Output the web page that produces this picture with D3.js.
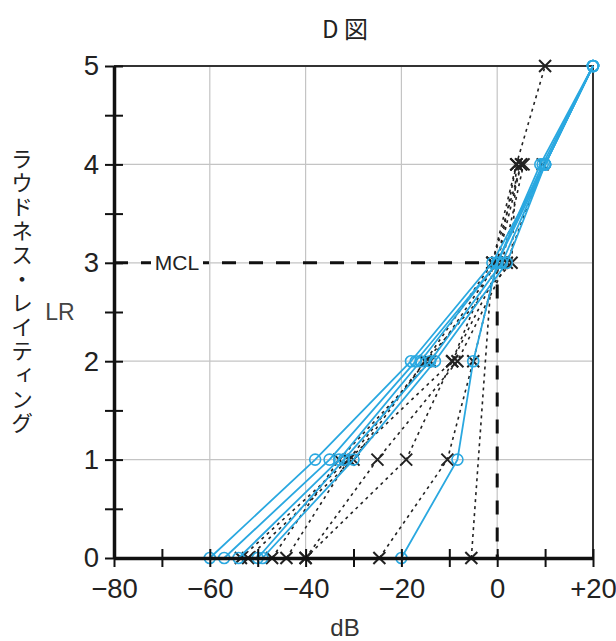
<!DOCTYPE html>
<html>
<head>
<meta charset="utf-8">
<script src="https://cdn.jsdelivr.net/npm/d3@7"></script>
<style>
  body { margin: 0; background: #fff; }
  svg { display: block; font-family: "Liberation Sans", Arial, sans-serif; }
</style>
</head>
<body>
<svg id="chart"></svg>
<script>
// loudness rating levels (y) and dB values read per curve (x)
const lrLevels = [0, 1, 2, 3, 4, 5];

// blue curves (solid, open circles)
const blueSeries = [
  [-60, -38, -18, -1, 10, 20],
  [-57, -35, -17, 0, 10, 20],
  [-54, -33, -16, 0, 9, 20],
  [-50, -32, -14, 1, 10, 20],
  [-49, -30, -13, 2, 10, 20],
  [-20, -8.3, -5, 0, 9.5, 20]
];

// black curves (dotted, x marks); null = level not measured
const blackSeries = [
  [-53.5, -31, -15, -1, 4, 10],
  [-47, -33, -14, 0, 5],
  [-44, -31, -9.4, 1, 5.5],
  [-40, -25, -8.3, 2, 9.5],
  [-24.6, -10.4, -5, 0, 4],
  [-40, -19, -9.4, -1, 5],
  [-5.4, null, null, -1],
  [-52, -30, -15, 3, 4]
];

const xTicks = d3.range(-80, 21, 10);
const yTicks = d3.range(0, 5.01, 0.5);
const gridX = [-60, -40, -20, 0];
const gridY = [1, 2, 3, 4];
const mclLevel = 3;
const mclDb = 0;

const width = 616, height = 641;
const svg = d3.select("#chart").attr("width", width).attr("height", height);

const x = d3.scaleLinear().domain([-80, 20]).range([114, 593]);
const y = d3.scaleLinear().domain([0, 5]).range([558, 66]);

// grid
svg.append("g").selectAll("line").data(gridX).join("line")
  .attr("x1", d => x(d)).attr("x2", d => x(d))
  .attr("y1", y(5)).attr("y2", y(0))
  .attr("stroke", "#c4c4c4").attr("stroke-width", 1.2);
svg.append("g").selectAll("line").data(gridY).join("line")
  .attr("x1", x(-80)).attr("x2", x(20))
  .attr("y1", d => y(d)).attr("y2", d => y(d))
  .attr("stroke", "#c4c4c4").attr("stroke-width", 1.2);

// top / right frame
svg.append("path")
  .attr("d", `M${x(-80)},${y(5)}H${x(20)}V${y(0)}`)
  .attr("fill", "none").attr("stroke", "#333").attr("stroke-width", 2);

// MCL dashed guide
svg.append("path")
  .attr("d", `M${x(-80)},${y(mclLevel)}H${x(mclDb)}V${y(0)}`)
  .attr("fill", "none").attr("stroke", "#111").attr("stroke-width", 3)
  .attr("stroke-dasharray", "14,13");

const mcl = svg.append("g");
mcl.append("rect").attr("x", 151).attr("y", y(mclLevel) - 12).attr("width", 52).attr("height", 24).attr("fill", "#fff");
mcl.append("text").attr("x", 177).attr("y", y(mclLevel)).attr("dy", "0.36em")
  .attr("text-anchor", "middle").attr("font-size", 21).attr("fill", "#222").text("MCL");

const line = d3.line().x(d => x(d.db)).y(d => y(d.lr));
const toPoints = s => s.map((db, i) => ({ db, lr: lrLevels[i] })).filter(d => d.db != null);

// black dotted curves
const blackG = svg.append("g");
blackSeries.forEach(s => {
  const pts = toPoints(s);
  blackG.append("path").attr("d", line(pts))
    .attr("fill", "none").attr("stroke", "#222").attr("stroke-width", 1.6)
    .attr("stroke-dasharray", "3,4");
  blackG.selectAll(null).data(pts).join("path")
    .attr("d", d => { const cx = x(d.db), cy = y(d.lr), r = 6; return `M${cx - r},${cy - r}L${cx + r},${cy + r}M${cx - r},${cy + r}L${cx + r},${cy - r}`; })
    .attr("stroke", "#222").attr("stroke-width", 2);
});

// blue solid curves
const blueG = svg.append("g");
blueSeries.forEach(s => {
  const pts = toPoints(s);
  blueG.append("path").attr("d", line(pts))
    .attr("fill", "none").attr("stroke", "#2aa8e0").attr("stroke-width", 1.8);
  blueG.selectAll(null).data(pts).join("circle")
    .attr("cx", d => x(d.db)).attr("cy", d => y(d.lr)).attr("r", 5.5)
    .attr("fill", "none").attr("stroke", "#2aa8e0").attr("stroke-width", 1.6);
});

// axes
const yAxis = svg.append("g").attr("transform", `translate(${x(-80)},0)`)
  .call(d3.axisLeft(y).tickValues(yTicks).tickSize(0).tickPadding(15)
    .tickFormat(d => Number.isInteger(d) ? d : ""));
yAxis.select(".domain").attr("stroke", "#111").attr("stroke-width", 3.5);
yAxis.selectAll(".tick").append("line").attr("x1", -9).attr("x2", 9).attr("stroke", "#111").attr("stroke-width", 2);
yAxis.selectAll("text").attr("font-size", 27.5).attr("fill", "#222")
  .attr("font-family", "Liberation Sans, Arial, sans-serif");

const fmtX = d => d === 0 ? "0" : d > 0 ? "+" + d : "\u2212" + (-d);
const xAxis = svg.append("g").attr("transform", `translate(0,${y(0)})`)
  .call(d3.axisBottom(x).tickValues(xTicks).tickSize(0).tickPadding(20)
    .tickFormat(d => d % 20 === 0 ? fmtX(d) : ""));
xAxis.select(".domain").attr("stroke", "#111").attr("stroke-width", 3.5);
xAxis.selectAll(".tick").append("line").attr("y1", -9).attr("y2", 9).attr("stroke", "#111").attr("stroke-width", 2);
xAxis.selectAll("text").attr("font-size", 27.5).attr("fill", "#222")
  .attr("font-family", "Liberation Sans, Arial, sans-serif");

// titles
svg.append("text").attr("x", 345).attr("y", 38).attr("text-anchor", "middle")
  .attr("font-size", 24).attr("fill", "#222").attr("font-family", "Noto Sans CJK JP, sans-serif").text("D 図");
svg.append("text").attr("x", 345).attr("y", 636).attr("text-anchor", "middle")
  .attr("font-size", 24).attr("fill", "#333").text("dB");
svg.append("text").attr("x", 60).attr("y", 320).attr("text-anchor", "middle")
  .attr("font-size", 23).attr("fill", "#444").text("LR");
svg.append("text").attr("x", 22).attr("y", 148)
  .attr("writing-mode", "vertical-rl").attr("font-size", 22).attr("letter-spacing", 2)
  .attr("fill", "#222").attr("font-family", "Noto Sans CJK JP, sans-serif").text("ラウドネス・レイティング");
</script>
</body>
</html>
